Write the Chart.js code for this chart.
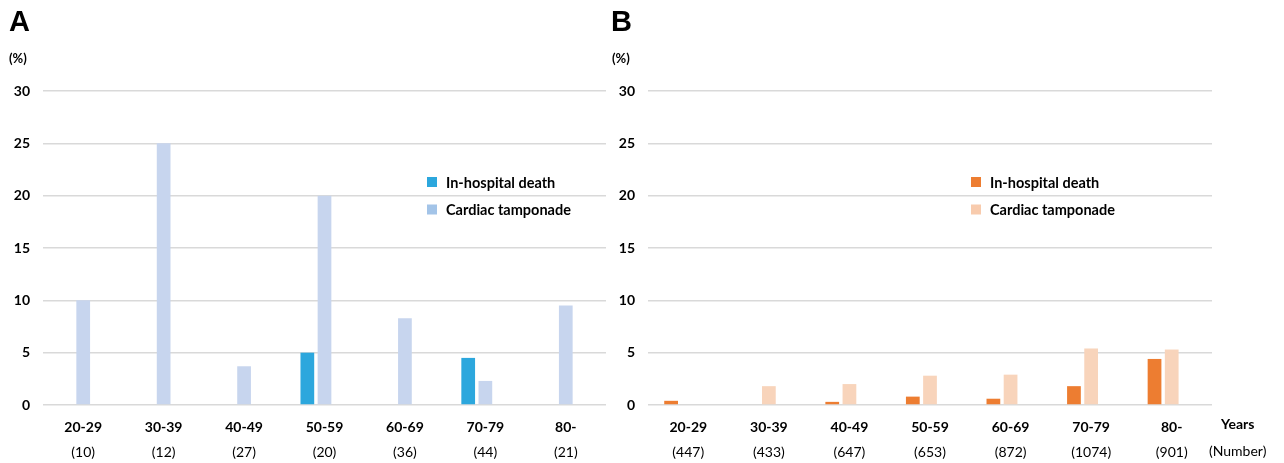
<!DOCTYPE html>
<html>
<head>
<meta charset="utf-8">
<script src="https://cdn.jsdelivr.net/npm/chart.js@4.4.1/dist/chart.umd.min.js"></script>
<style>
  body { margin: 0; background: #fff; font-family: Lato, sans-serif; }
  #wrap { position: relative; width: 1284px; height: 463px; overflow: hidden; }
  canvas { position: absolute; top: 0; }
  .lbl { position: absolute; color: #000; white-space: nowrap; line-height: 1; }
  .panel { font-family: "Liberation Sans", Arial, sans-serif; font-weight: bold; font-size: 29px; }
  .unit { font-weight: bold; font-size: 13px; }
</style>
</head>
<body>
<div id="wrap">
  <canvas id="chartA" width="640" height="463" style="left:0"></canvas>
  <canvas id="chartB" width="684" height="463" style="left:600px"></canvas>
  <div class="lbl panel" style="left:9px;top:7px">A</div>
  <div class="lbl panel" style="left:611px;top:7px">B</div>
  <div class="lbl unit" style="left:9px;top:52px">(%)</div>
  <div class="lbl unit" style="left:612px;top:52px">(%)</div>
  <div class="lbl" style="left:1221px;top:417px;font-weight:bold;font-size:14px">Years</div>
  <div class="lbl" style="left:1209px;top:444px;font-size:14px">(Number)</div>
</div>
<script>
// data
const ageGroups = ['20-29', '30-39', '40-49', '50-59', '60-69', '70-79', '80-'];
const countsA = ['(10)', '(12)', '(27)', '(20)', '(36)', '(44)', '(21)'];
const countsB = ['(447)', '(433)', '(647)', '(653)', '(872)', '(1074)', '(901)'];
const deathA = [0, 0, 0, 5.0, 0, 4.5, 0];
const tamponadeA = [10.0, 25.0, 3.7, 20.0, 8.3, 2.3, 9.5];
const deathB = [0.4, 0, 0.3, 0.8, 0.6, 1.8, 4.4];
const tamponadeB = [0, 1.8, 2.0, 2.8, 2.9, 5.4, 5.3];
const seriesNames = ['In-hospital death', 'Cardiac tamponade'];
const yMax = 30;
const yStep = 5;

const FONT = 'Lato, sans-serif';

// legend drawn inside the plot area
const innerLegend = {
    id: 'innerLegend',
    afterDraw(chart, args, opts) {
        const ctx = chart.ctx;
        const a = chart.chartArea;
        ctx.save();
        ctx.font = 'bold 14.5px ' + FONT;
        ctx.textBaseline = 'middle';
        opts.items.forEach((it, i) => {
            const x = a.left + opts.x;
            const y = a.top + opts.y + i * 27.5;
            ctx.fillStyle = it.color;
            ctx.fillRect(x, y - 5, 10, 10);
            ctx.fillStyle = '#000';
            ctx.fillText(it.text, x + 19, y + 1);
        });
        ctx.restore();
    }
};

function makeChart(id, death, tamp, counts, colors, pad, yWidth, legendPos) {
    return new Chart(document.getElementById(id), {
        type: 'bar',
        data: {
            labels: ageGroups,
            datasets: [
                { label: seriesNames[0], data: death, backgroundColor: colors[0] },
                { label: seriesNames[1], data: tamp, backgroundColor: colors[1] },
                { label: 'spacer', data: [] }
            ]
        },
        options: {
            responsive: false,
            animation: false,
            events: [],
            categoryPercentage: 0.64,
            barPercentage: 0.8,
            layout: { padding: pad },
            plugins: {
                legend: { display: false },
                tooltip: { enabled: false },
                innerLegend: {
                    x: legendPos[0], y: legendPos[1],
                    items: [
                        { text: seriesNames[0], color: colors[0] },
                        { text: seriesNames[1], color: colors[2] }
                    ]
                }
            },
            scales: {
                x: {
                    grid: { display: false, drawTicks: false },
                    border: { display: false },
                    ticks: { color: '#000', font: { family: FONT, size: 14, weight: 'bold' }, padding: 14, maxRotation: 0, autoSkip: false },
                    afterFit: s => { s.height = 36; }
                },
                x2: {
                    type: 'category',
                    position: 'bottom',
                    labels: counts,
                    grid: { display: false, drawTicks: false },
                    border: { display: false },
                    ticks: { color: '#000', font: { family: FONT, size: 14 }, padding: 3, maxRotation: 0, autoSkip: false },
                    afterFit: s => { s.height = 22; }
                },
                y: {
                    min: 0, max: yMax,
                    ticks: { stepSize: yStep, color: '#000', font: { family: FONT, size: 14, weight: 'bold' }, padding: 13 },
                    grid: { color: '#d9d9d9', lineWidth: 1.5, drawTicks: false },
                    border: { display: false },
                    afterFit: s => { s.width = yWidth; }
                }
            }
        },
        plugins: [innerLegend]
    });
}

makeChart('chartA', deathA, tamponadeA, countsA,
    ['#2ca7dd', '#c7d5ee', '#a3c4e8'],
    { top: 91, right: 34, bottom: 0, left: 0 }, 43, [384, 91]);
makeChart('chartB', deathB, tamponadeB, countsB,
    ['#ed7d31', '#f8d4bb', '#f8cbad'],
    { top: 91, right: 72, bottom: 0, left: 0 }, 48, [323, 91]);
</script>
</body>
</html>
